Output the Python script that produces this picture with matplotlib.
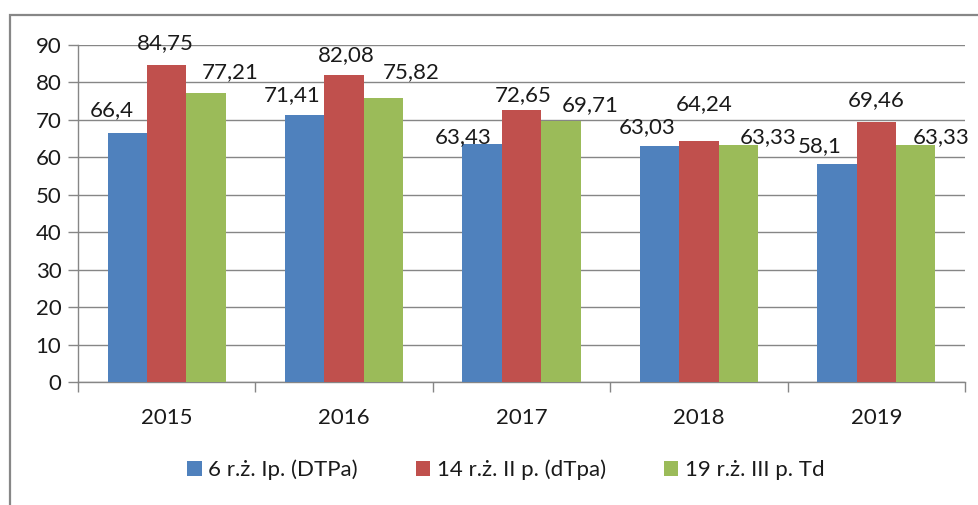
import matplotlib.pyplot as plt
import numpy as np
from matplotlib.patches import Rectangle

years = ["2015", "2016", "2017", "2018", "2019"]
series_names = ["6 r.ż. Ip. (DTPa)", "14 r.ż. II p. (dTpa)", "19 r.ż. III p. Td"]
dtpa = [66.4, 71.41, 63.43, 63.03, 58.1]
dtpa_booster = [84.75, 82.08, 72.65, 64.24, 69.46]
td = [77.21, 75.82, 69.71, 63.33, 63.33]
value_labels = [
    ["66,4", "71,41", "63,43", "63,03", "58,1"],
    ["84,75", "82,08", "72,65", "64,24", "69,46"],
    ["77,21", "75,82", "69,71", "63,33", "63,33"],
]

colors = ["#4F81BD", "#C0504D", "#9BBB59"]
# label nudges in pixels (dx, dy) measured from the bar top centre
label_offsets = [
    [(-16, 23), (-13, 20), (-19, 7), (-12, 19), (-17, 18)],
    [(-1, 22), (2, 20), (2, 15), (5, 37), (0, 22)],
    [(24, 21), (28, 26), (29, 16), (30, 8), (25, 8)],
]

plt.rcParams["font.family"] = ["Lato", "DejaVu Sans"]
FONT_SIZE = 16
TEXT_COLOR = "#1a1a1a"
GRID_COLOR = "#868686"

fig = plt.figure(figsize=(9.79, 5.05), dpi=100)
ax = fig.add_axes([78 / 979, 1 - 382 / 505, (965 - 78) / 979, (382 - 45) / 505])

# outer chart frame
fig.patches.append(Rectangle((10 / 979, -0.05), 1.05, 1 - 15 / 505 + 0.05,
                             transform=fig.transFigure, fill=False,
                             edgecolor="#878787", linewidth=1.6))

x = np.arange(len(years))
width = 0.222
all_series = [dtpa, dtpa_booster, td]
for i, (vals, name, color) in enumerate(zip(all_series, series_names, colors)):
    pos = x + (i - 1) * width
    ax.bar(pos, vals, width, color=color, label=name, zorder=3)
    for j, (px, v) in enumerate(zip(pos, vals)):
        dx, dy = label_offsets[i][j]
        ax.annotate(value_labels[i][j], (px, v), xytext=(dx, dy),
                    textcoords="offset pixels", ha="center", va="center",
                    fontsize=FONT_SIZE, color=TEXT_COLOR, zorder=4)

ax.set_xlim(-0.5, len(years) - 0.5)
ax.set_ylim(0, 90)
ax.set_yticks(np.arange(0, 91, 10))
ax.yaxis.grid(True, color=GRID_COLOR, linewidth=1.0, zorder=0)

ax.set_xticks(np.arange(-0.5, len(years), 1.0))
ax.set_xticklabels([])
ax.set_xticks(x, minor=True)
ax.set_xticklabels(years, minor=True)
ax.tick_params(axis="x", which="major", length=7, color=GRID_COLOR, width=1)
ax.tick_params(axis="x", which="minor", length=0, pad=19,
               labelsize=FONT_SIZE, labelcolor=TEXT_COLOR)
ax.tick_params(axis="y", length=7, color=GRID_COLOR, width=1, pad=5,
               labelsize=FONT_SIZE, labelcolor=TEXT_COLOR)

for side in ["top", "right"]:
    ax.spines[side].set_visible(False)
for side in ["left", "bottom"]:
    ax.spines[side].set_color(GRID_COLOR)
    ax.spines[side].set_linewidth(1.0)

fig.legend(loc="center", bbox_to_anchor=(506 / 979, 35 / 505), ncol=3,
           frameon=False, fontsize=FONT_SIZE, handlelength=0.65,
           handleheight=0.65, handletextpad=0.3, columnspacing=2.6,
           labelcolor=TEXT_COLOR)

fig.savefig("out.png", dpi=100)
